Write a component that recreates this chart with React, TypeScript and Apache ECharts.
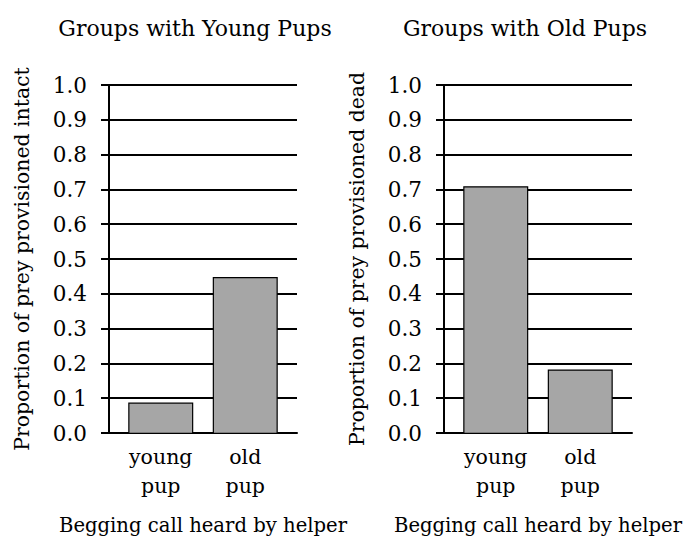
import React, { useEffect, useRef } from "react";
import * as echarts from "echarts";

const categories = ["young\npup", "old\npup"];
const youngGroupValues = [0.09, 0.45];
const oldGroupValues = [0.71, 0.185];
const panelTitles = ["Groups with Young Pups", "Groups with Old Pups"];
const yAxisTitles = ["Proportion of prey provisioned intact", "Proportion of prey provisioned dead"];
const xAxisTitle = "Begging call heard by helper";

const FONT = "DejaVu Serif";

export default function App() {
  const ref = useRef<HTMLDivElement>(null);
  useEffect(() => {
    if (!ref.current) return;
    const chart = echarts.init(ref.current, undefined, { renderer: "svg" });
    const top = 85;
    const height = 349;
    const panelLefts = [109, 444];
    const gridW = 188;
    const innerInset = 9.5;
    const grids: any[] = [];
    const xAxes: any[] = [];
    const yAxes: any[] = [];
    const series: any[] = [];
    const dataSets = [youngGroupValues, oldGroupValues];
    panelLefts.forEach((L, p) => {
      grids.push({ left: L, top, width: gridW, height });
      grids.push({ left: L + innerInset, top, width: gridW - 2 * innerInset, height });
      const gA = p * 2;
      const gB = p * 2 + 1;
      xAxes.push({
        gridIndex: gA,
        type: "category",
        data: ["", ""],
        axisLine: { show: true, lineStyle: { color: "#000", width: 2 } },
        axisTick: { show: false },
        axisLabel: { show: false },
        name: xAxisTitle,
        nameLocation: "middle",
        nameGap: 82,
        nameTextStyle: { fontFamily: FONT, fontSize: 19.6, color: "#000" },
      });
      xAxes.push({
        gridIndex: gB,
        type: "category",
        data: categories,
        axisLine: { show: false },
        axisTick: { show: false },
        axisLabel: {
          fontFamily: FONT,
          fontSize: 20.5,
          color: "#000",
          lineHeight: 29,
          margin: 8,
        },
      });
      yAxes.push({
        gridIndex: gA,
        type: "value",
        min: 0,
        max: 1,
        interval: 0.1,
        axisLine: { show: true, lineStyle: { color: "#000", width: 2 } },
        axisTick: { show: true, length: 8, lineStyle: { color: "#000", width: 2 } },
        splitLine: { show: true, lineStyle: { color: "#000", width: 2 } },
        axisLabel: {
          fontFamily: FONT,
          fontSize: 21.5,
          color: "#000",
          margin: 22,
          formatter: (v: number) => v.toFixed(1),
        },
        name: yAxisTitles[p],
        nameLocation: "middle",
        nameGap: 77,
        nameTextStyle: { fontFamily: FONT, fontSize: 20.4, color: "#000" },
      });
      yAxes.push({
        gridIndex: gB,
        type: "value",
        min: 0,
        max: 1,
        show: false,
      });
      series.push({
        type: "bar",
        xAxisIndex: gB,
        yAxisIndex: gB,
        data: dataSets[p],
        barWidth: 65,
        itemStyle: { color: "#a6a6a6", borderColor: "#000", borderWidth: 1.2 },
      });
    });

    const titleStyle = { fontFamily: FONT, fontSize: 22, fontWeight: "normal", color: "#000" };
    chart.setOption({
      animation: false,
      backgroundColor: "#fff",
      textStyle: { fontFamily: FONT },
      title: [
        { text: panelTitles[0], left: 190, top: 12, textAlign: "center", textStyle: titleStyle },
        { text: panelTitles[1], left: 520, top: 12, textAlign: "center", textStyle: titleStyle },
      ],
      grid: grids,
      xAxis: xAxes,
      yAxis: yAxes,
      series,
    });
    return () => chart.dispose();
  }, []);
  return (
    <div
      ref={ref}
      style={{ position: "fixed", left: 0, top: 0, width: 700, height: 540 }}
    />
  );
}
